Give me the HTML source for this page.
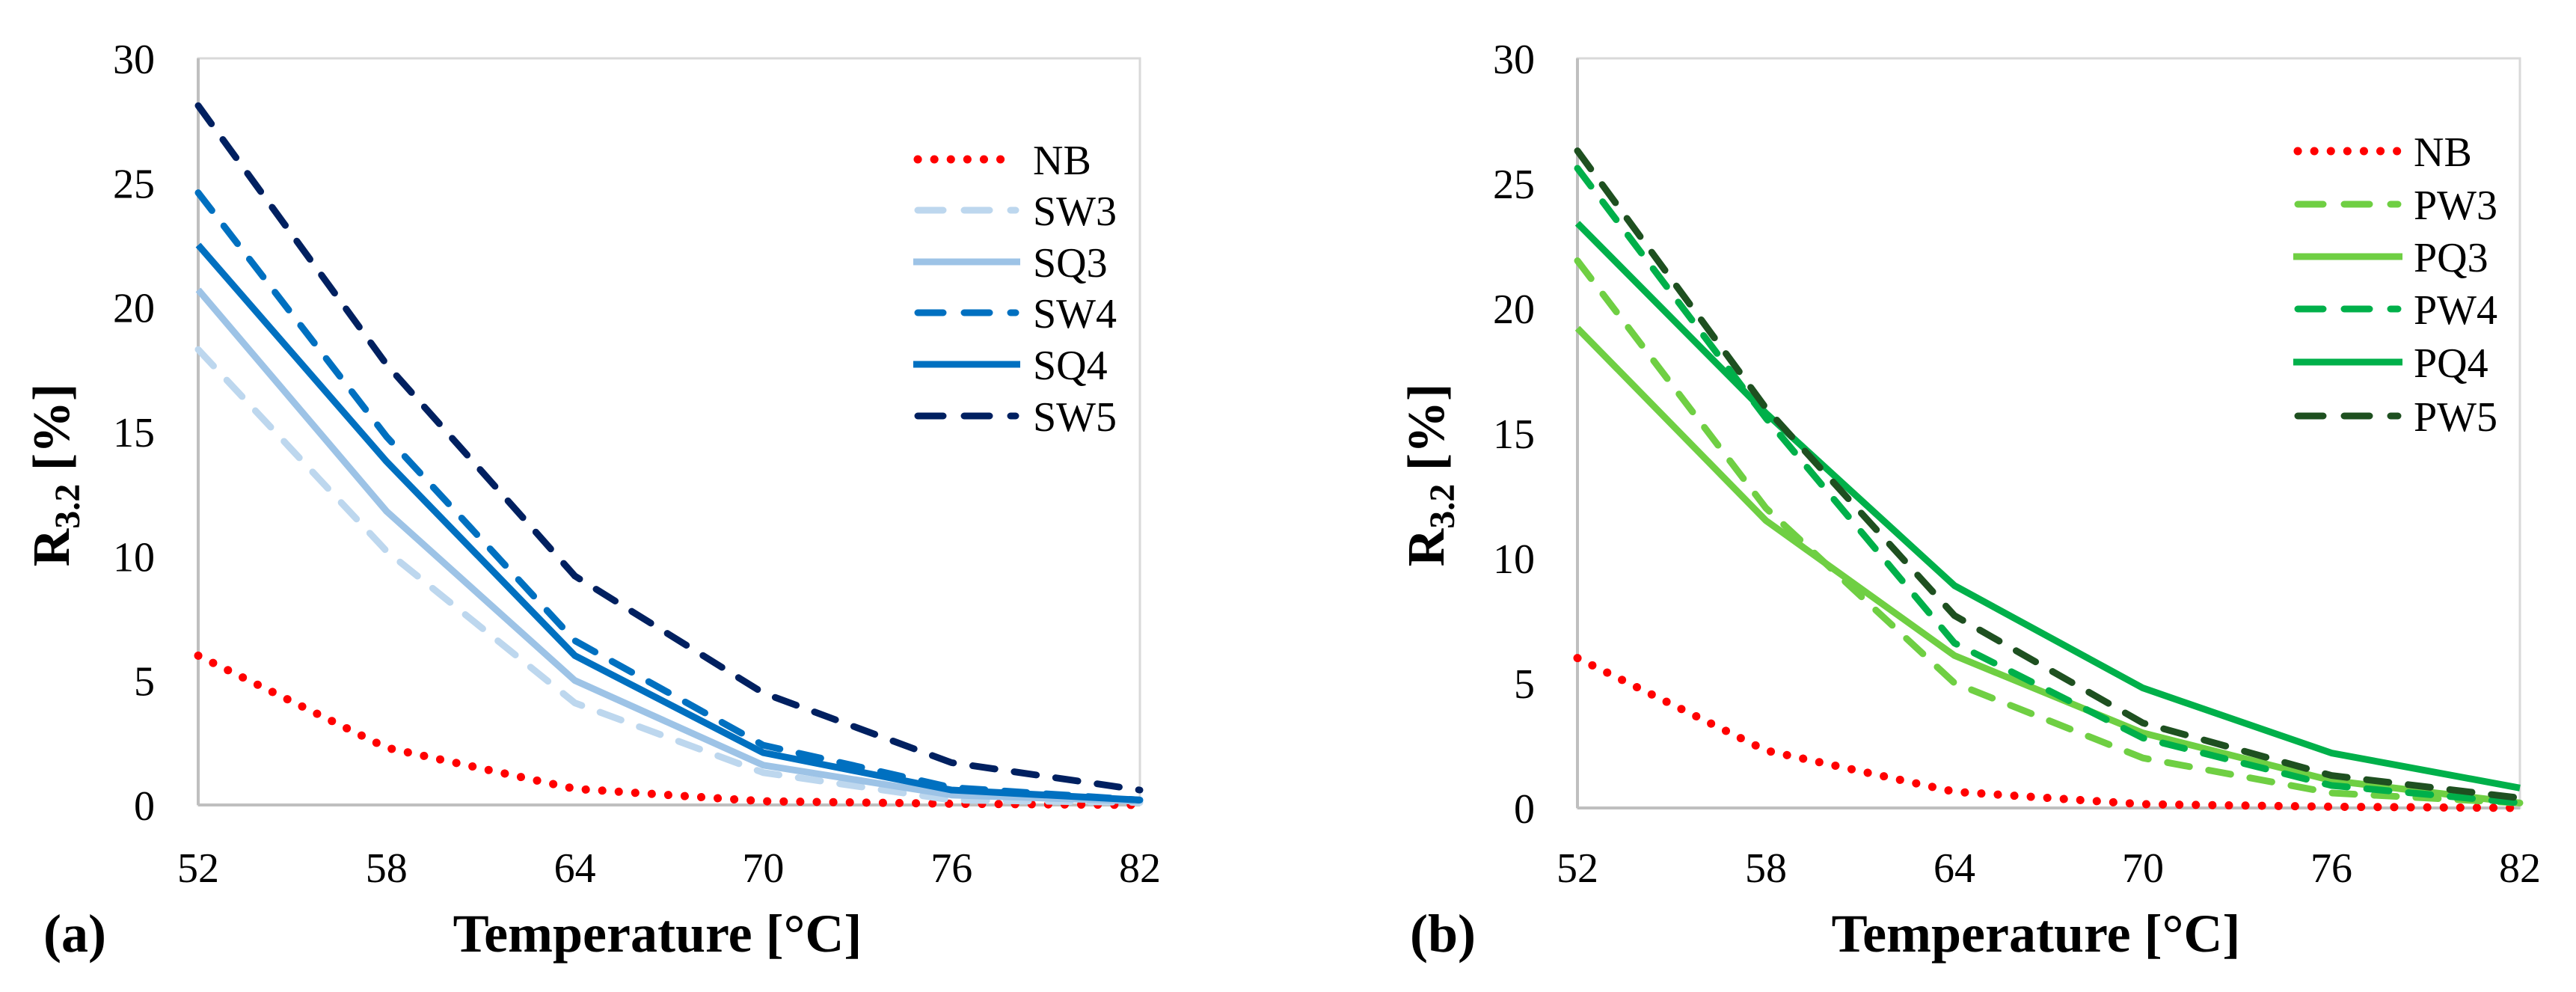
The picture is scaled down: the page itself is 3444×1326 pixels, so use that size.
<!DOCTYPE html>
<html><head><meta charset="utf-8"><style>
html,body{margin:0;padding:0;background:#fff;}
svg{display:block;font-family:"Liberation Serif",serif;}
</style></head><body>
<svg id="fig" width="3444" height="1326" viewBox="0 0 3444 1326" xmlns="http://www.w3.org/2000/svg"></svg>
<script>
const categories = [52, 58, 64, 70, 76, 82];
const yTicks = [0, 5, 10, 15, 20, 25, 30];
const seriesNames_a = ["NB", "SW3", "SQ3", "SW4", "SQ4", "SW5"];
const NB = [6.0, 2.3, 0.65, 0.15, 0.05, 0.0];
const SW3 = [18.3, 10.2, 4.1, 1.3, 0.2, 0.1];
const SQ3 = [20.7, 11.8, 5.0, 1.6, 0.4, 0.15];
const SW4 = [24.6, 14.8, 6.6, 2.4, 0.7, 0.2];
const SQ4 = [22.5, 13.8, 6.0, 2.1, 0.6, 0.2];
const SW5 = [28.1, 17.7, 9.2, 4.5, 1.7, 0.6];
const seriesNames_b = ["NB", "PW3", "PQ3", "PW4", "PQ4", "PW5"];
const PW3 = [21.9, 12.0, 5.0, 2.0, 0.6, 0.2];
const PQ3 = [19.2, 11.5, 6.1, 3.0, 1.1, 0.2];
const PW4 = [25.6, 15.6, 6.6, 2.8, 0.9, 0.2];
const PQ4 = [23.4, 15.8, 8.9, 4.8, 2.2, 0.8];
const PW5 = [26.3, 16.0, 7.7, 3.4, 1.3, 0.4];

const NS = "http://www.w3.org/2000/svg";
const svg = document.getElementById('fig');
function mk(tag, attrs, parent) {
  const e = document.createElementNS(NS, tag);
  for (const k in attrs) e.setAttribute(k, attrs[k]);
  (parent || svg).appendChild(e);
  return e;
}
const DOT = {dash: "0.1 22", cap: "round"};
const DASH = {dash: "30 26", cap: "round"};
const SOLID = {dash: "none", cap: "butt"};

function panel(cfg) {
  const g = mk('g', {});
  
  
  const x = v => cfg.x0 + (v - categories[0]) / (categories[categories.length-1] - categories[0]) * (cfg.x1 - cfg.x0);
  const y = v => cfg.y0 - v / 30 * (cfg.y0 - cfg.y1);
  // frame
  const fr = mk('rect', {x: cfg.x0, y: cfg.y1, width: cfg.x1 - cfg.x0, height: cfg.y0 - cfg.y1, fill: 'none', stroke: '#d9d9d9', 'stroke-width': 3}, g);
  
  
  const ax = mk('line', {x1: cfg.x0, x2: cfg.x1, y1: y(0), y2: y(0), stroke: '#bfbfbf', 'stroke-width': 4}, g);
  
  
  const ayl = mk('line', {x1: cfg.x0, x2: cfg.x0, y1: cfg.y1, y2: cfg.y0, stroke: '#bfbfbf', 'stroke-width': 4}, g);
  
  
  yTicks.forEach(t => {
    const tx = mk('text', {x: cfg.ylabX, y: y(t) + 20, 'text-anchor': 'end', 'font-size': 56}, g);
    tx.textContent = t;
    
    
  });
  categories.forEach(c => {
    const tx = mk('text', {x: x(c), y: 1179, 'text-anchor': 'middle', 'font-size': 56}, g);
    tx.textContent = c;
    
    
  });
  cfg.series.forEach((s, i) => {
    const pts = s.vals.map((v, j) => x(categories[j]) + ',' + y(v)).join(' ');
    const pl = mk('polyline', {points: pts, fill: 'none', stroke: s.color, 'stroke-width': s.style === DOT ? 11 : 9,
      'stroke-dasharray': s.style.dash, 'stroke-linecap': s.style.cap, 'stroke-linejoin': 'round'}, g);
    
    
    const ly = cfg.legY[i];
    const lg = mk('g', {}, g);
    
    
    mk('line', {x1: cfg.legX0 + (s.style === SOLID ? 0 : 6), x2: cfg.legX1 - (s.style === SOLID ? 0 : 6), y1: ly, y2: ly, stroke: s.color,
      'stroke-width': s.style === DOT ? 11 : 9, 'stroke-dasharray': s.style === DASH ? "34 28" : s.style.dash, 'stroke-linecap': s.style.cap}, lg);
    const lt = mk('text', {x: cfg.legTX, y: ly + 20, 'font-size': 56}, lg);
    lt.textContent = s.name;
  });
  const yt = mk('text', {transform: `translate(${cfg.ytX},635) rotate(-90)`, 'text-anchor': 'middle', 'font-size': 70, 'font-weight': 'bold'}, g);
  yt.innerHTML = 'R<tspan font-size="48" dy="14">3.2</tspan><tspan dy="-14"> [%]</tspan>';
  
  
  const xt = mk('text', {x: cfg.xtX, y: 1272, 'text-anchor': 'middle', 'font-size': 72, 'font-weight': 'bold'}, g);
  xt.textContent = 'Temperature  [°C]';
  
  
  const pl2 = mk('text', {x: cfg.tagX, y: 1272, 'font-size': 72, 'font-weight': 'bold'}, g);
  pl2.textContent = cfg.tag;
  
  
}

panel({id: 'a', x0: 265, x1: 1524, y0: 1076, y1: 78, ylabX: 207, ytX: 92, xtX: 879, tagX: 58, tag: '(a)',
  legX0: 1221, legX1: 1364, legTX: 1381, legY: [213, 281, 350, 418, 487, 556],
  series: [
    {name: seriesNames_a[0], vals: NB, color: '#ff0000', style: DOT},
    {name: seriesNames_a[1], vals: SW3, color: '#bdd7ee', style: DASH},
    {name: seriesNames_a[2], vals: SQ3, color: '#9dc3e6', style: SOLID},
    {name: seriesNames_a[3], vals: SW4, color: '#0070c0', style: DASH},
    {name: seriesNames_a[4], vals: SQ4, color: '#0070c0', style: SOLID},
    {name: seriesNames_a[5], vals: SW5, color: '#002060', style: DASH}
  ]});
panel({id: 'b', x0: 2109, x1: 3369, y0: 1080, y1: 78, ylabX: 2052, ytX: 1930, xtX: 2722, tagX: 1885, tag: '(b)',
  legX0: 3066, legX1: 3212, legTX: 3227, legY: [202, 273, 343, 413, 484, 556],
  series: [
    {name: seriesNames_b[0], vals: NB, color: '#ff0000', style: DOT},
    {name: seriesNames_b[1], vals: PW3, color: '#6fcf43', style: DASH},
    {name: seriesNames_b[2], vals: PQ3, color: '#6fcf43', style: SOLID},
    {name: seriesNames_b[3], vals: PW4, color: '#00b04a', style: DASH},
    {name: seriesNames_b[4], vals: PQ4, color: '#00b04a', style: SOLID},
    {name: seriesNames_b[5], vals: PW5, color: '#1e5020', style: DASH}
  ]});
</script>
</body></html>
